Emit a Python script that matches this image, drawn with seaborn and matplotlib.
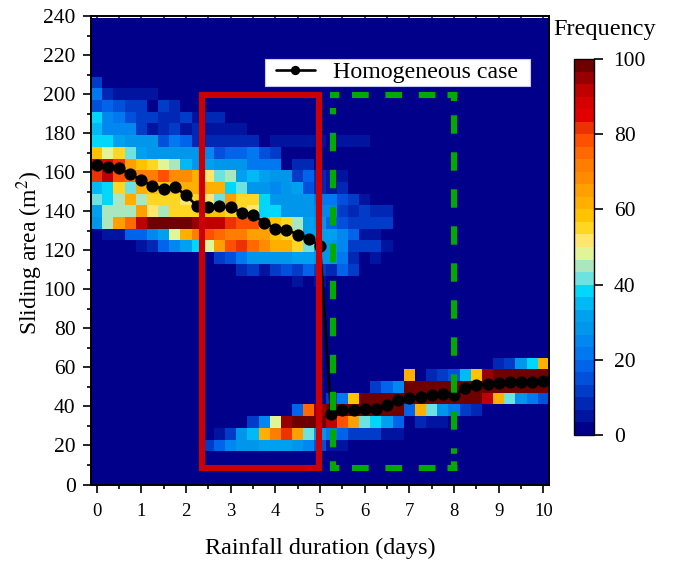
import numpy as np
import pandas as pd
import matplotlib
matplotlib.use("Agg")
import matplotlib.pyplot as plt
import seaborn as sns
from matplotlib.colors import ListedColormap
from matplotlib.patches import Rectangle

# frequency per row, one value per 0.25 day column, row name = sliding area at cell centre
row_206 = [12]
row_200 = [20, 8, 5, 5, 5, 5]
row_194 = [14, 18, 15, 10, 10, 2, 12, 8]
row_188 = [38, 25, 20, 14, 10, 13, 8, 8, 10, 5, 7, 7]
row_182 = [34, 25, 25, 25, 13, 5, 9, 11, 6, 8, 6, 6, 6, 6]
row_176 = [38, 38, 33, 27, 27, 27, 15, 20, 17, 8, 9, 9, 9, 7, 7, 0, 5, 5, 5, 5, 5, 0, 5, 5, 5]
row_170 = [58, 47, 54, 42, 33, 28, 28, 28, 28, 28, 25, 14, 18, 18, 23, 15, 12]
row_164 = [88, 85, 80, 64, 58, 54, 48, 45, 34, 28, 30, 29, 29, 29, 20, 20, 20, 0, 7, 7]
row_158 = [80, 92, 78, 75, 70, 72, 78, 67, 68, 60, 53, 41, 46, 30, 35, 30, 28, 28, 10, 17, 8, 6, 6]
row_152 = [35, 38, 54, 41, 60, 58, 58, 58, 60, 60, 60, 62, 38, 42, 28, 28, 24, 28, 30, 15, 8, 6, 7]
row_146 = [42, 38, 46, 60, 46, 54, 54, 54, 50, 54, 52, 41, 64, 54, 54, 38, 28, 28, 28, 28, 20, 20, 15, 10, 5]
row_140 = [30, 46, 46, 46, 64, 50, 46, 54, 54, 54, 58, 58, 56, 54, 52, 38, 38, 28, 28, 28, 25, 25, 10, 7, 13, 8, 8]
row_134 = [28, 46, 66, 75, 90, 100, 100, 100, 100, 96, 90, 90, 80, 78, 78, 66, 58, 54, 46, 30, 28, 18, 15, 13, 10, 10, 10]
row_128 = [0, 5, 5, 17, 18, 24, 30, 48, 60, 72, 78, 75, 72, 72, 66, 64, 58, 56, 54, 30, 33, 30, 25, 18, 5, 5]
row_122 = [0, 0, 0, 0, 5, 8, 18, 24, 30, 38, 48, 64, 78, 82, 74, 68, 60, 60, 54, 42, 33, 28, 24, 12, 12, 10, 6]
row_116 = [0] * 11 + [10, 14, 20, 28, 28, 28, 28, 32, 32, 28, 28, 20, 7, 0, 6]
row_110 = [0] * 13 + [8, 10, 6, 10, 15, 10, 18, 12, 8, 18, 10]
row_104 = [0] * 18 + [5, 0, 4]
row_062 = [0] * 36 + [8, 12, 28, 37, 60]
row_056 = [0] * 28 + [62, 0, 7, 11, 16, 36, 58, 96, 98, 98, 98, 98, 98]
row_050 = [0] * 25 + [12, 18, 25] + [100] * 13
row_044 = [0] * 21 + [12, 22, 58] + [100] * 11 + [90, 60, 42, 28, 20, 15]
row_038 = [0] * 18 + [18, 75, 95] + [100] * 7 + [17, 60, 42, 27, 20, 12, 7]
row_032 = [0] * 14 + [13, 26, 48, 96, 100, 100, 100, 90, 78, 64, 42, 37, 30, 17, 0, 8, 5, 5]
row_026 = [0] * 11 + [6, 10, 28, 36, 60, 72, 82, 65, 41, 28, 20, 17, 13, 10, 10, 6, 6]
row_020 = [0] * 10 + [12, 18, 25, 28, 28, 32, 32, 32, 28, 26, 15, 5, 5]

# black curve, one point every 0.25 day
homogeneous_days = [0, 0.25, 0.5, 0.75, 1, 1.25, 1.5, 1.75, 2, 2.25, 2.5, 2.75, 3, 3.25, 3.5, 3.75, 4,
                    4.25, 4.5, 4.75, 5, 5.25, 5.5, 5.75, 6, 6.25, 6.5, 6.75, 7, 7.25, 7.5, 7.75, 8,
                    8.25, 8.5, 8.75, 9, 9.25, 9.5, 9.75, 10]
homogeneous_area = [163.6, 162.4, 161.9, 159.1, 155.9, 152.8, 151.6, 152.5, 148.2, 142.6, 142.2, 142.6,
                    141.9, 139.3, 138.3, 134.2, 131.1, 130.6, 128, 126, 122.2, 35.9, 38.3, 38.3, 38.5,
                    38.5, 40.5, 43.4, 44.4, 44.8, 46, 46.5, 45.6, 49.4, 50.9, 51.6, 52, 52.3, 52.5, 52.7, 53]

# colorbar levels read from bottom to top
level_colors = ["#00008b", "#0014a0", "#0028b4", "#003cc8", "#0050dc", "#0064eb", "#0078f0", "#0087f0",
                "#0096eb", "#00a0f0", "#00b9f5", "#00d7fa", "#6ee1e1", "#aae6be", "#e1f596",
                "#ffe66e", "#ffd723", "#ffc300", "#ffaf00", "#ffa000", "#ff8c00", "#ff7d00", "#ff6900",
                "#ff5000", "#eb3200", "#e10000", "#d70000", "#be0000", "#960000", "#6e0000"]

x_ticks = [0, 1, 2, 3, 4, 5, 6, 7, 8, 9, 10]
y_ticks = [0, 20, 40, 60, 80, 100, 120, 140, 160, 180, 200, 220, 240]
cbar_ticks = [0, 20, 40, 60, 80, 100]


def day_to_cell(day):
    return (np.asarray(day, dtype=float) + 0.125) * 4


def area_to_cell(area):
    return (np.asarray(area, dtype=float) + 1) / 6


rows = {206: row_206, 200: row_200, 194: row_194, 188: row_188, 182: row_182, 176: row_176, 170: row_170,
        164: row_164, 158: row_158, 152: row_152, 146: row_146, 140: row_140, 134: row_134, 128: row_128,
        122: row_122, 116: row_116, 110: row_110, 104: row_104, 62: row_062, 56: row_056, 50: row_050,
        44: row_044, 38: row_038, 32: row_032, 26: row_026, 20: row_020}

centers = np.arange(2, 242, 6)
table = pd.DataFrame(0.0, index=centers, columns=np.arange(41) * 0.25)
for center, values in rows.items():
    table.iloc[list(centers).index(center), :len(values)] = values

sns.set_style("ticks")
plt.rcParams["font.family"] = ["Liberation Serif", "DejaVu Serif"]
plt.rcParams["mathtext.fontset"] = "stix"
plt.rcParams["text.color"] = "black"
plt.rcParams["axes.labelcolor"] = "black"
plt.rcParams["xtick.labelcolor"] = "black"
plt.rcParams["ytick.labelcolor"] = "black"
plt.rcParams["lines.scale_dashes"] = False

fig = plt.figure(figsize=(6.73, 5.61), dpi=100)
W, H = 673, 561
ax = fig.add_axes([91 / W, 1 - 484.5 / H, 458 / W, 468.5 / H])
cax = fig.add_axes([574 / W, 1 - 435 / H, 19.5 / W, 376 / H])

sns.heatmap(table, ax=ax, cbar_ax=cax, cmap=ListedColormap(level_colors), vmin=0, vmax=100,
            xticklabels=False, yticklabels=False, cbar_kws={"ticks": cbar_ticks})

sns.lineplot(x=day_to_cell(homogeneous_days), y=area_to_cell(homogeneous_area), ax=ax, color="black",
             linewidth=1.9, marker="o", markersize=8.8, markeredgewidth=0, estimator=None, sort=False,
             label="Homogeneous case", zorder=4)

red_box = Rectangle((day_to_cell(2.35), area_to_cell(8.2)), day_to_cell(4.98) - day_to_cell(2.35),
                    area_to_cell(199.5) - area_to_cell(8.2), fill=False, edgecolor="#cc0000",
                    linewidth=4.4, joinstyle="miter", zorder=5)
ax.add_patch(red_box)


# dash lengths are given in pixels, the green box sides do not share a phase
def green_side(days, areas, pixels):
    ax.plot(day_to_cell(days), area_to_cell(areas), color="#00aa00", linewidth=4.4,
            linestyle=(0, tuple(p * 0.72 for p in pixels)), dash_capstyle="butt", zorder=5)


green_side([5.29, 5.29], [6.8, 193], [9.7, 14] + [18.5, 18.5] * 10)
green_side([8.01, 8.01], [201.3, 6.8], [9, 14.3] + [18.4, 18.6] * 9 + [5.5, 7.5, 9.7, 5])
green_side([5.22, 8.08], [199.6, 199.6], [9.3, 12.7, 16.7, 16.7, 16.7, 16.7, 16.7, 12, 10, 5])
green_side([5.22, 8.08], [8.36, 8.36], [9.3, 12.7, 16.7, 16.7, 16.7, 16.7, 16.7, 12, 10, 5])

ax.set_xlim(0, 41)
ax.set_ylim(area_to_cell(0), area_to_cell(240))

ax.set_xticks(day_to_cell(x_ticks))
ax.set_xticklabels(x_ticks, fontsize=13.5)
ax.set_xticks(day_to_cell(np.array(x_ticks[:-1]) + 0.5), minor=True)
ax.set_yticks(area_to_cell(y_ticks))
ax.set_yticklabels(y_ticks, fontsize=15.5)
ax.set_yticks(area_to_cell(np.array(y_ticks[:-1]) + 10), minor=True)

for side in ["left", "right", "top", "bottom"]:
    ax.spines[side].set_visible(True)
    ax.spines[side].set_linewidth(1.4)
    ax.spines[side].set_color("black")
ax.set_zorder(3)

# left/bottom ticks point out, the mirrored ones point in
ax.tick_params(which="major", length=6, width=1.2, direction="out", color="black")
ax.tick_params(which="minor", length=3, width=1.2, direction="out", color="black")
ax.tick_params(which="both", axis="x", top=False, bottom=True, pad=7)
ax.tick_params(which="both", axis="y", right=False, left=True, pad=5)
for side, axis_name in [("top", "x"), ("right", "y")]:
    twin = ax.secondary_xaxis("top") if axis_name == "x" else ax.secondary_yaxis("right")
    ticks = day_to_cell(x_ticks) if axis_name == "x" else area_to_cell(y_ticks)
    minor = ax.get_xticks(minor=True) if axis_name == "x" else ax.get_yticks(minor=True)
    twin.set_ticks(ticks)
    twin.set_ticks(minor, minor=True)
    twin.tick_params(which="major", length=6, width=1.2, direction="in", labelsize=0,
                     labeltop=False, labelright=False)
    twin.tick_params(which="minor", length=3, width=1.2, direction="in")
    twin.spines[side].set_visible(False)

ax.set_xlabel("Rainfall duration (days)", fontsize=17.4, labelpad=13, visible=True)
ax.set_ylabel("Sliding area (m$^{2}$)", fontsize=17, visible=True)
ax.yaxis.set_label_coords((45 - 91) / 458, (484.5 - 253) / 468.5)

# white box and legend placed apart, the box has more room left of the handle than above it
ax.add_patch(Rectangle((265 / W, 1 - 85.7 / H), 265 / W, 26.7 / H, transform=fig.transFigure, clip_on=False,
                       facecolor="white", edgecolor="#c8c8f0", linewidth=0.8, zorder=5.5))
leg = ax.legend(loc="center left", bbox_to_anchor=(276 / W, 1 - 72 / H), bbox_transform=fig.transFigure,
                frameon=False, fontsize=17.2, handlelength=1.63, handletextpad=0.75, borderpad=0,
                borderaxespad=0, labelspacing=0)
leg.set_zorder(6)
for handle in leg.get_lines():
    handle.set_markersize(6.7)

cbar = ax.collections[0].colorbar
cbar.outline.set_visible(True)
cbar.outline.set_edgecolor("black")
cbar.outline.set_linewidth(1.0)
cax.tick_params(axis="y", length=6.5, width=1.2, color="black", labelsize=15.5, pad=8, right=True)
cax.minorticks_off()
fig.text(605 / W, 1 - 30 / H, "Frequency", ha="center", va="center", fontsize=17.5)

fig.savefig("out.png", dpi=100)
